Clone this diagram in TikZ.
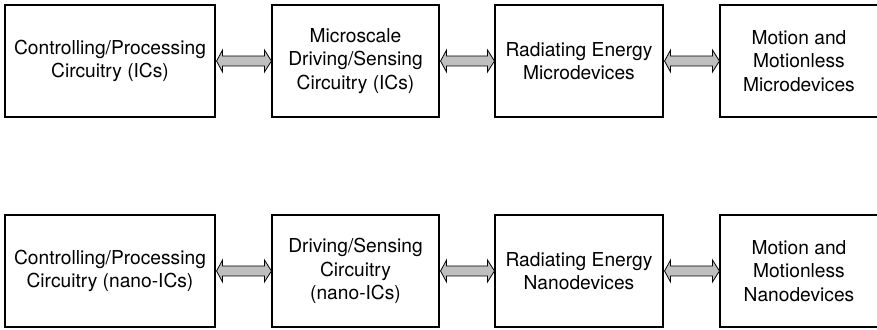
\documentclass[tikz,border=0pt]{standalone}
\usepackage{fontspec}
\setmainfont{TeX Gyre Heros}
\usetikzlibrary{calc}
\begin{document}
\begin{tikzpicture}[x=1pt,y=1pt,
  block/.style={draw, line width=1.1pt, inner sep=0pt, align=center,
    minimum height=112pt, font=\fontsize{19.2}{23.5}\selectfont},
  % hollow two-headed arrow running from the start point to the target
  link/.style={draw, line width=0.8pt, fill=gray!50, line join=miter,
    to path={let \p1=(\tikztostart), \p2=(\tikztotarget) in
      (\x1+1pt,\y1) -- (\x1+7pt,\y1+11pt) -- (\x1+7pt,\y1+5pt)
      -- (\x2-7pt,\y1+5pt) -- (\x2-7pt,\y1+11pt) -- (\x2,\y1)
      -- (\x2-7pt,\y1-11pt) -- (\x2-7pt,\y1-5pt)
      -- (\x1+7pt,\y1-5pt) -- (\x1+7pt,\y1-11pt) -- cycle}}]
\useasboundingbox (0,0) rectangle (877,329);

% microscale chain
\node[block, minimum width=210pt] (m1) at (110,268) {Controlling/Processing\\Circuitry (ICs)};
\node[block, minimum width=167pt] (m2) at (355.5,268) {Microscale\\Driving/Sensing\\Circuitry (ICs)};
\node[block, minimum width=168pt] (m3) at (579,268) {Radiating Energy\\Microdevices};
\node[block, minimum width=158pt] (m4) at (799,268) {Motion and\\Motionless\\Microdevices};

% nanoscale chain
\node[block, minimum width=210pt] (n1) at (110,58) {Controlling/Processing\\Circuitry (nano-ICs)};
\node[block, minimum width=167pt] (n2) at (355.5,58) {Driving/Sensing\\Circuitry\\(nano-ICs)};
\node[block, minimum width=168pt] (n3) at (579,58) {Radiating Energy\\Nanodevices};
\node[block, minimum width=158pt] (n4) at (799,58) {Motion and\\Motionless\\Nanodevices};

% two-way links
\foreach \a/\b in {m1/m2, m2/m3, m3/m4, n1/n2, n2/n3, n3/n4}
  \draw[link] (\a.east) to (\b.west);
\end{tikzpicture}
\end{document}
